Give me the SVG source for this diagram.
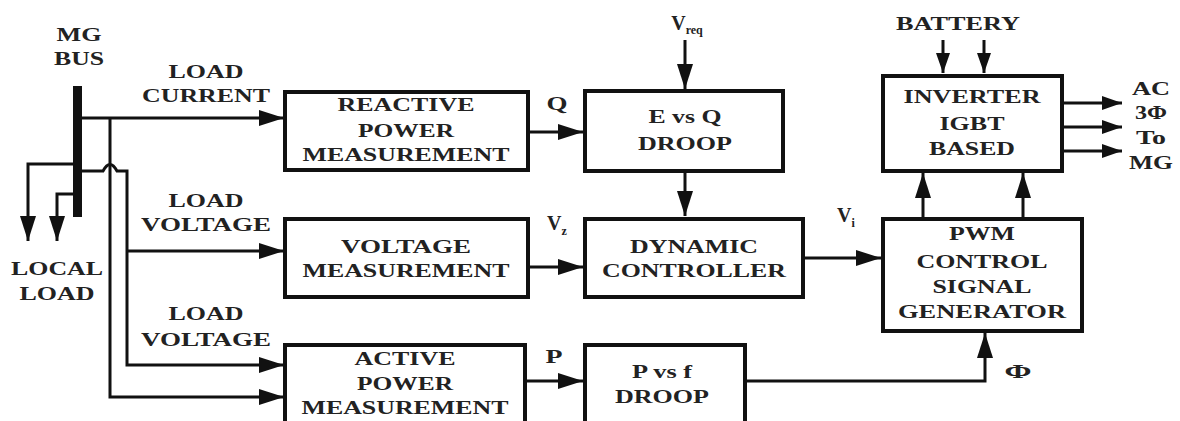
<svg xmlns="http://www.w3.org/2000/svg" width="1180" height="421" viewBox="0 0 1180 421" font-family="'Liberation Serif', 'DejaVu Serif', serif" font-weight="bold" font-size="18">
<style>
text{fill:#222;text-anchor:middle}
.box{fill:#fff;stroke:#111;stroke-width:4}
.ar{fill:none;stroke:#111;stroke-width:3;marker-end:url(#ah)}
.ars{fill:none;stroke:#111;stroke-width:3;marker-end:url(#ahs)}
</style>
<defs>
<marker id="ah" markerUnits="userSpaceOnUse" markerWidth="25" markerHeight="16" refX="25" refY="8" orient="auto"><path d="M0,0 L25,8 L0,16 z" fill="#111"/></marker>
<marker id="ahs" markerUnits="userSpaceOnUse" markerWidth="20" markerHeight="14" refX="20" refY="7" orient="auto"><path d="M0,0 L20,7 L0,14 z" fill="#111"/></marker>
</defs>
<rect width="1180" height="421" fill="#fff"/>

<g id="connectors">
  <line class="ar" x1="82" y1="118" x2="284" y2="118"/>
  <polyline class="ar" points="110,118 110,397 284,397"/>
  <path class="ar" d="M82,171 L103,171 Q110,158 117,171 L127,171 L127,365 L284,365"/>
  <line class="ar" x1="127" y1="251" x2="284" y2="251"/>
  <polyline class="ar" points="75,164 28,164 28,241"/>
  <polyline class="ar" points="75,194 57,194 57,241"/>
  <line class="ar" x1="528" y1="132" x2="583" y2="132"/>
  <line class="ar" x1="528" y1="267" x2="583" y2="267"/>
  <line class="ar" x1="525" y1="381" x2="583" y2="381"/>
  <line class="ar" x1="685" y1="40" x2="685" y2="89"/>
  <line class="ar" x1="685" y1="172" x2="685" y2="216"/>
  <line class="ar" x1="803" y1="258" x2="881" y2="258"/>
  <polyline class="ar" points="745,381 985,381 985,333"/>
  <line class="ar" x1="923" y1="217" x2="923" y2="173"/>
  <line class="ar" x1="1023" y1="217" x2="1023" y2="173"/>
  <line class="ars" x1="943" y1="40" x2="943" y2="73"/>
  <line class="ars" x1="984" y1="40" x2="984" y2="73"/>
  <line class="ars" x1="1063" y1="103" x2="1122" y2="103"/>
  <line class="ars" x1="1063" y1="127" x2="1122" y2="127"/>
  <line class="ars" x1="1063" y1="151" x2="1122" y2="151"/>
</g>

<g id="bus">
  <rect x="73" y="86" width="9" height="131" fill="#111"/>
  <text x="79" y="41" textLength="45" lengthAdjust="spacingAndGlyphs">MG</text>
  <text x="79" y="65" textLength="50" lengthAdjust="spacingAndGlyphs">BUS</text>
</g>

<g id="labels">
  <text x="206" y="78" textLength="75" lengthAdjust="spacingAndGlyphs">LOAD</text>
  <text x="206" y="102" textLength="128" lengthAdjust="spacingAndGlyphs">CURRENT</text>
  <text x="206" y="207" textLength="75" lengthAdjust="spacingAndGlyphs">LOAD</text>
  <text x="206" y="231" textLength="130" lengthAdjust="spacingAndGlyphs">VOLTAGE</text>
  <text x="206" y="320" textLength="75" lengthAdjust="spacingAndGlyphs">LOAD</text>
  <text x="206" y="346" textLength="130" lengthAdjust="spacingAndGlyphs">VOLTAGE</text>
  <text x="57" y="275" textLength="92" lengthAdjust="spacingAndGlyphs">LOCAL</text>
  <text x="57" y="300" textLength="75" lengthAdjust="spacingAndGlyphs">LOAD</text>
  <text x="557" y="110" textLength="21" lengthAdjust="spacingAndGlyphs">Q</text>
  <text x="557" y="230" font-size="20">V<tspan font-size="12" dy="5">z</tspan></text>
  <text x="554" y="363" textLength="17" lengthAdjust="spacingAndGlyphs">P</text>
  <text x="687" y="30" font-size="20">V<tspan font-size="12" dy="4">req</tspan></text>
  <text x="846" y="222" font-size="20">V<tspan font-size="12" dy="5">i</tspan></text>
  <text x="1018" y="378" textLength="27" lengthAdjust="spacingAndGlyphs">Φ</text>
  <text x="958" y="30" textLength="124" lengthAdjust="spacingAndGlyphs">BATTERY</text>
  <text x="1151" y="95" textLength="38" lengthAdjust="spacingAndGlyphs">AC</text>
  <text x="1151" y="119" textLength="32" lengthAdjust="spacingAndGlyphs">3Φ</text>
  <text x="1151" y="144" textLength="30" lengthAdjust="spacingAndGlyphs">To</text>
  <text x="1151" y="169" textLength="44" lengthAdjust="spacingAndGlyphs">MG</text>
</g>

<g id="reactive">
  <rect class="box" x="285" y="92" width="243" height="78"/>
  <text x="406" y="111" textLength="137" lengthAdjust="spacingAndGlyphs">REACTIVE</text>
  <text x="406" y="137" textLength="96" lengthAdjust="spacingAndGlyphs">POWER</text>
  <text x="406" y="161" textLength="207" lengthAdjust="spacingAndGlyphs">MEASUREMENT</text>
</g>

<g id="voltage">
  <rect class="box" x="285" y="219" width="243" height="78"/>
  <text x="406" y="253" textLength="130" lengthAdjust="spacingAndGlyphs">VOLTAGE</text>
  <text x="406" y="277" textLength="207" lengthAdjust="spacingAndGlyphs">MEASUREMENT</text>
</g>

<g id="active">
  <rect class="box" x="285" y="345" width="240" height="90"/>
  <text x="405" y="365" textLength="101" lengthAdjust="spacingAndGlyphs">ACTIVE</text>
  <text x="405" y="390" textLength="96" lengthAdjust="spacingAndGlyphs">POWER</text>
  <text x="405" y="414" textLength="207" lengthAdjust="spacingAndGlyphs">MEASUREMENT</text>
</g>

<g id="eq-droop">
  <rect class="box" x="585" y="91" width="198" height="80"/>
  <text x="685" y="123" textLength="73" lengthAdjust="spacingAndGlyphs">E vs Q</text>
  <text x="685" y="150" textLength="94" lengthAdjust="spacingAndGlyphs">DROOP</text>
</g>

<g id="dynamic">
  <rect class="box" x="585" y="219" width="218" height="78"/>
  <text x="694" y="253" textLength="128" lengthAdjust="spacingAndGlyphs">DYNAMIC</text>
  <text x="694" y="277" textLength="184" lengthAdjust="spacingAndGlyphs">CONTROLLER</text>
</g>

<g id="pf-droop">
  <rect class="box" x="585" y="345" width="160" height="90"/>
  <text x="662" y="378" textLength="60" lengthAdjust="spacingAndGlyphs">P vs f</text>
  <text x="662" y="403" textLength="94" lengthAdjust="spacingAndGlyphs">DROOP</text>
</g>

<g id="inverter">
  <rect class="box" x="883" y="76" width="179" height="95"/>
  <text x="972" y="103" textLength="137" lengthAdjust="spacingAndGlyphs">INVERTER</text>
  <text x="972" y="130" textLength="65" lengthAdjust="spacingAndGlyphs">IGBT</text>
  <text x="972" y="155" textLength="86" lengthAdjust="spacingAndGlyphs">BASED</text>
</g>

<g id="pwm">
  <rect class="box" x="883" y="219" width="199" height="112"/>
  <text x="982" y="240" textLength="66" lengthAdjust="spacingAndGlyphs">PWM</text>
  <text x="982" y="268" textLength="131" lengthAdjust="spacingAndGlyphs">CONTROL</text>
  <text x="982" y="293" textLength="99" lengthAdjust="spacingAndGlyphs">SIGNAL</text>
  <text x="982" y="318" textLength="168" lengthAdjust="spacingAndGlyphs">GENERATOR</text>
</g>
</svg>
